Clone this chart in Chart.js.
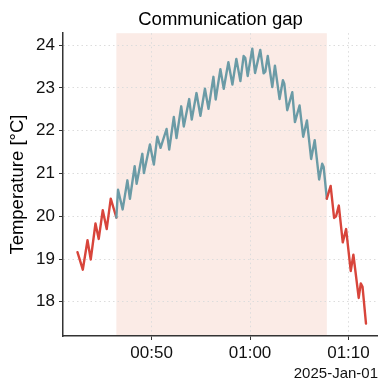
<!DOCTYPE html>
<html>
<head>
<meta charset="utf-8">
<script src="https://cdn.jsdelivr.net/npm/chart.js@4"></script>
<style>
  html, body { margin: 0; padding: 0; background: #fff; }
  #wrap { width: 378px; height: 383px; }
</style>
</head>
<body>
<div id="wrap"><canvas id="myChartCanvas"></canvas></div>
<script>
// minutes after midnight, 2025-Jan-01
const minutes = [
  42.47, 43.01, 43.49, 43.82, 44.30, 44.63, 45.04, 45.44, 45.85, 46.42,
  46.59, 47.06, 47.54, 47.80, 48.28, 48.48, 49.06, 49.22, 49.83, 50.23,
  50.58, 50.91, 51.52, 51.79, 52.26, 52.53, 53.01, 53.27, 53.82, 54.08,
  54.56, 54.96, 55.42, 55.78, 56.28, 56.51, 56.99, 57.33, 57.80, 58.21,
  58.61, 59.02, 59.35, 59.52, 59.76, 60.23, 60.51, 61.04, 61.38, 61.55,
  61.80, 62.26, 62.53, 63.00, 63.34, 63.48, 63.78, 64.29, 64.56, 65.03,
  65.40, 65.78, 66.21, 66.57, 67.02, 67.33, 67.48, 67.80,
  68.19, 68.54, 68.74, 69.02, 69.42, 69.76, 70.23, 70.50, 71.04, 71.25,
  71.43, 71.78
];
const temperature = [
  19.16, 18.75, 19.44, 18.99, 19.83, 19.47, 20.14, 19.70, 20.41, 19.97,
  20.62, 20.16, 20.84, 20.41, 21.17, 20.76, 21.46, 21.01, 21.68, 21.21,
  21.86, 21.60, 22.04, 21.56, 22.32, 21.83, 22.57, 22.10, 22.74, 22.26,
  22.88, 22.35, 22.98, 22.51, 23.26, 22.73, 23.44, 22.98, 23.60, 23.08,
  23.68, 23.16, 23.75, 23.70, 23.28, 23.92, 23.35, 23.89, 23.34, 23.38,
  23.75, 23.02, 23.52, 22.74, 23.18, 23.10, 22.48, 22.90, 22.20, 22.59,
  21.86, 22.24, 21.34, 21.78, 20.86, 21.23, 21.15, 20.41,
  20.71, 19.96, 20.00, 20.25, 19.39, 19.70, 18.72, 19.10, 18.09, 18.43,
  18.35, 17.49
];

// interval with no live readings
const gapStart = 46.42;
const gapEnd = 67.80;

const xTicks = [50, 60, 70];
const yTicks = [18, 19, 20, 21, 22, 23, 24];

const RED = '#d8453b';
const BLUE = '#6b9ba6';
const SHADE = '#fbebe6';
const FONT = '"Liberation Sans", Arial, sans-serif';

function hhmm(v) {
  const h = Math.floor(v / 60);
  const m = Math.round(v - h * 60);
  return String(h).padStart(2, '0') + ':' + String(m).padStart(2, '0');
}

const points = minutes.map((m, i) => ({ x: m, y: temperature[i] }));

const inGap = (ctx) =>
  ctx.p0.parsed.x >= gapStart - 1e-6 && ctx.p1.parsed.x <= gapEnd + 1e-6;

// paints the gap band under the grid and the line
const gapBand = {
  id: 'gapBand',
  beforeDraw(chart) {
    const { ctx, chartArea, scales } = chart;
    const x0 = scales.x.getPixelForValue(gapStart);
    const x1 = scales.x.getPixelForValue(gapEnd);
    ctx.save();
    ctx.fillStyle = SHADE;
    ctx.fillRect(x0, chartArea.top, x1 - x0, chartArea.bottom - chartArea.top);
    ctx.restore();
  }
};

const canvas = document.getElementById('myChartCanvas');
new Chart(canvas, {
  type: 'line',
  data: {
    datasets: [{
      data: points,
      borderColor: RED,
      borderWidth: 2.4,
      pointRadius: 0,
      tension: 0,
      borderJoinStyle: 'round',
      borderCapStyle: 'round',
      segment: {
        borderColor: (ctx) => inGap(ctx) ? BLUE : RED
      }
    }]
  },
  options: {
    responsive: true,
    maintainAspectRatio: false,
    animation: false,
    layout: { padding: { left: 0, right: 0, top: 0, bottom: 0 } },
    plugins: {
      legend: { display: false },
      tooltip: { enabled: false },
      title: {
        display: true,
        fullSize: false,
        text: 'Communication gap',
        color: '#000',
        font: { family: FONT, size: 18.5, weight: 'normal' },
        padding: { top: 9, bottom: 2 }
      }
    },
    scales: {
      x: {
        type: 'linear',
        min: 41.0,
        max: 73.0,
        afterBuildTicks: (s) => { s.ticks = xTicks.map(v => ({ value: v })); },
        afterFit: (s) => { s.height = 47; },
        ticks: {
          color: '#111',
          font: { family: FONT, size: 17 },
          padding: 3,
          maxRotation: 0,
          callback: (v) => hhmm(v)
        },
        grid: {
          color: '#dcdcdc',
          lineWidth: 1,
          tickColor: '#333',
          tickLength: 4,
          drawTicks: true
        },
        border: { color: '#333', width: 1.5, dash: [1.5, 3] },
        title: {
          display: true,
          text: '2025-Jan-01',
          align: 'end',
          color: '#111',
          font: { family: FONT, size: 15 },
          padding: { top: 0, bottom: 0 }
        }
      },
      y: {
        min: 17.2,
        max: 24.28,
        afterBuildTicks: (s) => { s.ticks = yTicks.map(v => ({ value: v })); },
        afterFit: (s) => { s.width = 63; },
        ticks: {
          color: '#111',
          font: { family: FONT, size: 17 },
          padding: 4,
          callback: (v) => String(v)
        },
        grid: {
          color: '#dcdcdc',
          lineWidth: 1,
          tickColor: '#333',
          tickLength: 4,
          drawTicks: true
        },
        border: { color: '#333', width: 1.5, dash: [1.5, 3] },
        title: {
          display: true,
          text: 'Temperature [°C]',
          color: '#000',
          font: { family: FONT, size: 18.5 },
          padding: { top: 7, bottom: 0 }
        }
      }
    }
  },
  plugins: [gapBand]
});
</script>
</body>
</html>
